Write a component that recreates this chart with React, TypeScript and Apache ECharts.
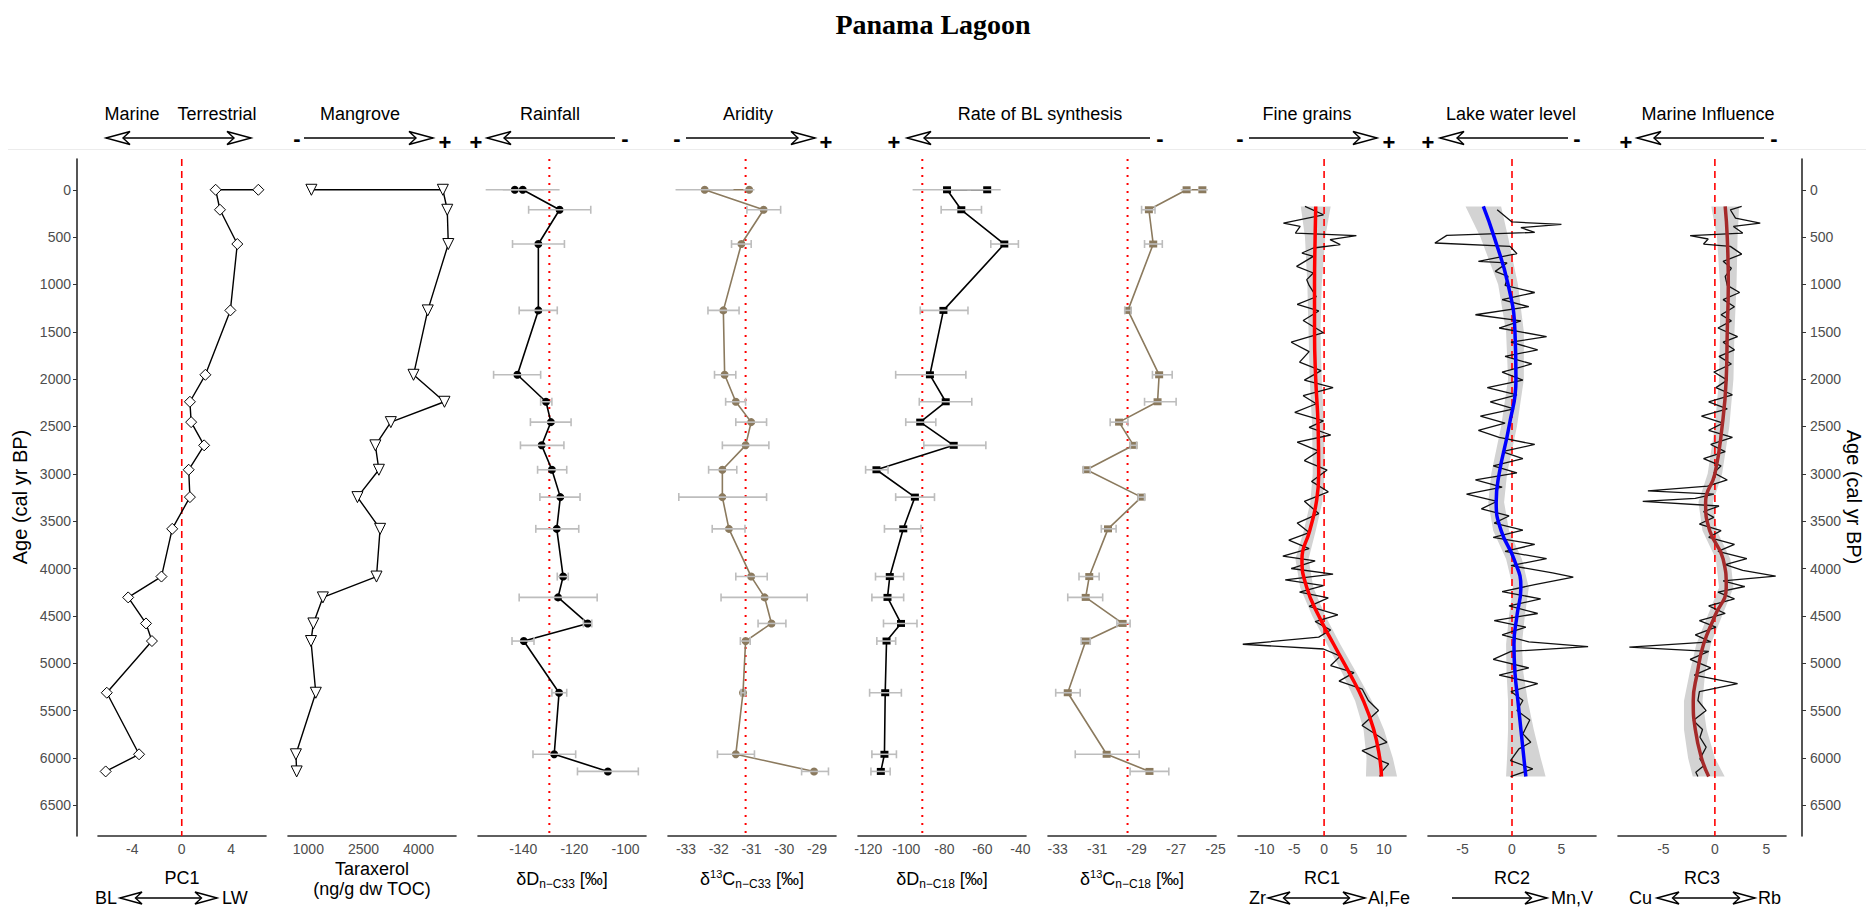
import React, { useEffect, useRef } from "react";
import * as echarts from "echarts";

// ---- shared sample ages (cal yr BP); core-top holds two samples ----
const sampleAge = [0, 0, 211, 573, 1274, 1954, 2239, 2454, 2699, 2957, 3246, 3581, 4085, 4305, 4580, 4766, 5312, 5962, 6143];

const pc1 = [6.19, 2.74, 3.09, 4.49, 3.93, 1.91, 0.66, 0.76, 1.81, 0.56, 0.66, -0.77, -1.64, -4.33, -2.89, -2.41, -6.06, -3.45, -6.15];
const taraxerol = [1082, 4662, 4782, 4810, 4251, 3863, 4706, 3245, 2824, 2920, 2336, 2953, 2855, 1395, 1136, 1071, 1202, 660, 681];

const dDC33 = [-143.3, -140.2, -125.8, -134.1, -134.1, -142.3, -131.1, -129.2, -132.8, -128.8, -125.5, -126.9, -124.4, -126.4, -114.8, -139.8, -126.0, -127.9, -106.9];
const dDC33Lo = [-154.7, -148, -137.9, -144.2, -141.6, -151.6, -133.2, -137.2, -141.1, -134.4, -133.5, -135.1, -126.7, -141.6, -116.5, -144.4, -128.8, -136.2, -118.8];
const dDC33Hi = [-132, -125.8, -113.6, -123.9, -126.7, -133.2, -128.8, -121.3, -124.1, -123.0, -117.8, -118.3, -122.4, -111.1, -113.2, -135.8, -123.0, -119.5, -95.0];

const d13CC33 = [-31.07, -32.43, -30.63, -31.31, -31.86, -31.82, -31.48, -31.01, -31.18, -31.89, -31.89, -31.69, -31.01, -30.6, -30.39, -31.18, -31.26, -31.48, -29.09];
const d13CC33Lo = [-31.25, -33.32, -31.14, -31.61, -32.33, -32.13, -31.79, -31.48, -31.89, -32.31, -33.22, -32.2, -31.48, -31.93, -30.8, -31.34, -31.32, -32.04, -29.47];
const d13CC33Hi = [-30.91, -31.55, -30.11, -31.01, -31.38, -31.48, -31.18, -30.54, -30.47, -31.45, -30.54, -31.2, -30.52, -29.3, -29.95, -31.04, -31.2, -30.91, -28.65];

const dDC18 = [-57.5, -78.6, -71.1, -48.5, -80.5, -87.6, -79.3, -92.7, -75.1, -115.7, -95.5, -101.6, -108.7, -109.9, -102.8, -110.4, -111.1, -111.5, -113.4];
const dDC18Lo = [-68, -96.7, -81.7, -55.6, -92.7, -105.6, -93.2, -100.3, -90.8, -121.4, -105.6, -111.5, -116.2, -118.1, -112, -115.5, -119.3, -118.1, -118.6];
const dDC18Hi = [-50.4, -66, -60.5, -41.1, -67.6, -68.7, -65.6, -84.5, -58.2, -109.6, -85.2, -92.3, -101.4, -101.4, -94.4, -105.6, -102.6, -105.2, -108.5];

const d13CC18 = [-25.67, -26.47, -28.38, -28.16, -29.44, -27.86, -27.94, -29.89, -29.16, -31.54, -28.76, -30.45, -31.4, -31.58, -29.71, -31.58, -32.49, -30.52, -28.35];
const d13CC18Lo = [-25.9, -26.77, -28.75, -28.6, -29.6, -28.2, -28.6, -30.34, -29.32, -31.7, -28.92, -30.79, -31.92, -32.49, -30.0, -31.81, -33.1, -32.11, -29.33];
const d13CC18Hi = [-25.39, -26.2, -28.07, -27.7, -29.28, -27.2, -27.0, -29.44, -29.0, -31.35, -28.6, -30.04, -30.9, -30.72, -29.33, -31.35, -31.86, -28.87, -27.37];

// ---- XRF principal components (raw scores) ----
const rc1Age = [176, 264, 352, 387, 457, 485, 527, 580, 615, 668, 703, 809, 879, 949, 1010, 1130, 1210, 1280, 1380, 1510, 1610, 1710, 1820, 1910, 2010, 2090, 2175, 2260, 2350, 2440, 2510, 2590, 2665, 2760, 2860, 2960, 3080, 3190, 3290, 3420, 3520, 3620, 3700, 3790, 3870, 3920, 4000, 4060, 4120, 4180, 4250, 4310, 4400, 4490, 4560, 4650, 4725, 4800, 4850, 4925, 5025, 5100, 5190, 5275, 5394, 5500, 5658, 5782, 5835, 5923, 6028, 6063, 6134, 6197];
const rc1 = [-3.2, -0.1, -6.8, -4.0, -4.8, 5.4, 1.0, 2.7, -1.8, -3.7, -1.8, -4.6, -1.8, -2.9, -2.5, -1.3, -4.5, -0.9, -3.5, -0.1, -5.5, -2.5, -4.1, -0.5, -3.3, 1.5, -3.5, -1.3, -4.9, -0.1, -2.5, 1.1, -4.5, -0.9, -3.3, 0.5, -2.1, 0.7, -3.3, -0.9, -4.5, -2.5, -5.9, -2.5, -6.9, -1.5, -5.5, 1.5, -6.5, -0.1, -4.1, 0.7, -2.5, 2.3, -1.5, 1.1, -0.9, -13.6, -0.1, 2.7, 1.1, 5.0, 2.5, 6.4, 7.4, 9.1, 6.35, 9.4, 10.5, 6.35, 9.45, 10.8, 9.8, 9.3];

const rc2Age = [211, 340, 365, 400, 450, 482, 562, 598, 675, 756, 773, 862, 914, 1010, 1085, 1160, 1235, 1320, 1385, 1460, 1550, 1610, 1690, 1760, 1840, 1925, 2010, 2090, 2165, 2240, 2315, 2390, 2465, 2540, 2615, 2690, 2765, 2840, 2915, 2990, 3065, 3140, 3215, 3290, 3370, 3445, 3520, 3595, 3670, 3745, 3820, 3895, 3970, 4045, 4090, 4170, 4245, 4320, 4395, 4475, 4550, 4620, 4700, 4775, 4825, 4875, 4960, 5050, 5125, 5215, 5300, 5394, 5500, 5600, 5746, 5835, 5905, 6028, 6116, 6197];
const rc2 = [-1.5, 0.0, 5.0, 0.9, 2.3, -6.6, -7.8, -0.2, 0.5, -3.4, -0.5, -1.7, -0.4, -0.7, 2.3, -1.0, 1.7, -3.7, 0.9, -1.3, 3.5, -0.1, 2.6, -0.7, 2.0, -1.0, 1.1, -2.5, 0.5, -2.2, 0.2, -3.2, -0.7, -3.4, -1.3, 2.3, -1.0, 1.1, -1.9, 0.5, -3.7, -1.0, -4.6, -1.5, -3.1, -0.3, -1.8, 1.1, -1.9, 2.3, -0.7, 3.5, -0.1, 4.1, 6.2, 2.3, -1.0, 2.9, -0.3, 2.6, -1.8, 1.4, -1.0, 1.7, 7.7, -0.1, -1.9, 1.7, -1.3, 2.6, -0.1, 1.1, 0.5, 1.8, 1.1, 1.9, 0.7, -0.15, 2.1, -0.15];

const rc3Age = [176, 211, 300, 352, 387, 457, 485, 520, 573, 598, 680, 756, 830, 914, 1010, 1085, 1160, 1235, 1320, 1385, 1460, 1550, 1610, 1690, 1760, 1840, 1925, 2010, 2090, 2165, 2240, 2315, 2390, 2465, 2540, 2615, 2690, 2765, 2840, 2915, 2990, 3065, 3130, 3180, 3215, 3260, 3290, 3340, 3400, 3460, 3530, 3600, 3670, 3745, 3820, 3895, 3960, 4020, 4080, 4130, 4190, 4250, 4320, 4395, 4475, 4550, 4620, 4700, 4775, 4830, 4875, 4960, 5050, 5125, 5215, 5300, 5394, 5500, 5605, 5700, 5782, 5887, 6010, 6081, 6151, 6197];
const rc3 = [2.6, 1.5, 2.0, 4.4, 1.8, 2.7, -2.4, -0.65, -1.1, 1.5, 2.6, 0.8, 1.6, 1.0, 1.2, 2.4, 0.8, 1.9, 0.6, 1.6, 0.3, 2.2, 0.8, 1.9, 0.4, 1.6, -0.1, 1.2, 0.1, 1.7, -0.6, 1.2, -1.3, 0.8, -0.6, 1.7, -0.4, 1.0, -1.1, 0.6, -0.1, 1.2, -0.7, -6.5, -0.1, -1.9, -7.0, 0.4, -1.1, -0.1, -1.5, 0.6, -0.6, 1.9, 0.3, 3.1, 1.0, 2.7, 5.9, 0.8, 2.9, 0.3, 1.9, -0.6, 1.0, -1.5, 0.1, -1.9, -0.4, -8.3, -0.6, -2.4, -0.4, -2.0, 2.2, -1.5, -1.65, -0.85, -2.1, -1.2, -1.45, -0.85, -1.45, -1.05, -1.85, -1.65];

// ---- loess fits with confidence bands ----
const rcSmoothAge = [176, 500, 1000, 1500, 2000, 2500, 3000, 3300, 3600, 3900, 4200, 4500, 4800, 5100, 5400, 5700, 6000, 6197];
const rc1Smooth = [-1.4, -1.5, -1.6, -1.6, -1.4, -1.0, -0.9, -1.3, -2.4, -3.7, -2.9, -0.9, 1.6, 4.2, 6.6, 8.3, 9.3, 9.6];
const rc1Lo = [-3.9, -3.2, -2.8, -2.6, -2.4, -2.0, -1.9, -2.3, -3.4, -4.8, -4.0, -2.0, 0.5, 3.0, 5.2, 6.6, 7.1, 7.0];
const rc1Hi = [1.1, 0.2, -0.4, -0.6, -0.4, 0.0, 0.1, -0.3, -1.4, -2.6, -1.8, 0.2, 2.7, 5.4, 8.0, 10.0, 11.5, 12.2];
const rc2Smooth = [-2.9, -1.8, -0.4, 0.3, 0.4, -0.3, -1.3, -1.6, -1.1, 0.2, 0.9, 0.5, 0.2, 0.3, 0.6, 0.9, 1.2, 1.4];
const rc2Lo = [-4.7, -3.2, -1.4, -0.6, -0.4, -1.1, -2.1, -2.4, -1.9, -0.6, 0.1, -0.3, -0.6, -0.55, -0.4, -0.4, -0.5, -0.6];
const rc2Hi = [-1.1, -0.4, 0.6, 1.2, 1.2, 0.5, -0.5, -0.8, -0.3, 1.0, 1.7, 1.3, 1.0, 1.15, 1.6, 2.2, 2.9, 3.4];
const rc3Smooth = [1.0, 1.2, 1.3, 1.2, 1.1, 0.7, 0.0, -0.9, -0.5, 0.8, 1.1, 0.0, -1.1, -1.7, -2.1, -1.9, -1.3, -0.6];
const rc3Lo = [-0.35, 0.2, 0.5, 0.5, 0.4, 0.0, -0.7, -1.6, -1.2, 0.1, 0.4, -0.7, -1.8, -2.45, -3.0, -3.0, -2.6, -2.15];
const rc3Hi = [2.35, 2.2, 2.1, 1.9, 1.8, 1.4, 0.7, -0.2, 0.2, 1.5, 1.8, 0.7, -0.4, -0.95, -1.2, -0.8, 0.0, 0.95];

// ---- reference lines ----
const pc1Ref = 0;
const dDC33Ref = -129.8;
const d13CC33Ref = -31.18;
const dDC18Ref = -91.6;
const d13CC18Ref = -29.46;
const rcRef = 0;

// ---- tick labels ----
const ageTicks = [0, 500, 1000, 1500, 2000, 2500, 3000, 3500, 4000, 4500, 5000, 5500, 6000, 6500];
const pc1Ticks = [-4, 0, 4];
const taraxTicks = [1000, 2500, 4000];
const dDC33Ticks = [-140, -120, -100];
const d13CC33Ticks = [-33, -32, -31, -30, -29];
const dDC18Ticks = [-120, -100, -80, -60, -40];
const d13CC18Ticks = [-33, -31, -29, -27, -25];
const rc1Ticks = [-10, -5, 0, 5, 10];
const rc2Ticks = [-5, 0, 5];
const rc3Ticks = [-5, 0, 5];

const FONT = "'Liberation Sans', Arial, Helvetica, sans-serif";
const AGE_MIN = -325;
const AGE_MAX = 6825;
const BROWN = "#8b7a5e";
const ERR = "#bdbdbd";

const panelRanges: [number, number][] = [
  [-6.77, 6.81], [445, 5020], [-157.7, -92.0], [-33.55, -28.42], [-125.4, -37.1],
  [-33.49, -24.98], [-14.4, 13.7], [-8.5, 8.5], [-9.4, 6.9],
];
const panelTicks = [pc1Ticks, taraxTicks, dDC33Ticks, d13CC33Ticks, dDC18Ticks, d13CC18Ticks, rc1Ticks, rc2Ticks, rc3Ticks];

const PANEL_LEFT = 98;
const PANEL_STEP = 190;
const PANEL_W = 168;
const GRID_TOP = 159;
const GRID_H = 677;

const plainNumber = (v: number) => String(v);

function pairs(xs: number[], ys: number[]) {
  return xs.map((v, i) => [v, ys[i]]);
}

function refLine(k: number, value: number, dotted: boolean) {
  return {
    type: "line", xAxisIndex: k, yAxisIndex: k, z: 1, silent: true,
    symbol: "none",
    data: [[value, AGE_MIN], [value, AGE_MAX]],
    lineStyle: { color: "#ff0000", width: dotted ? 2 : 1.6, type: dotted ? [2, 6] : [7, 5] },
  };
}

function errorBars(k: number, lo: number[], hi: number[]) {
  return {
    type: "custom", xAxisIndex: k, yAxisIndex: k, z: 4, silent: true,
    data: lo.map((l, i) => [l, hi[i], sampleAge[i]]),
    encode: { x: [0, 1], y: 2 },
    renderItem: (_p: any, api: any) => {
      const age = api.value(2);
      const a = api.coord([api.value(0), age]);
      const b = api.coord([api.value(1), age]);
      const st = { stroke: ERR, lineWidth: 1.6 };
      const children: any[] = [
        { type: "line", shape: { x1: a[0], y1: a[1], x2: b[0], y2: b[1] }, style: st },
      ];
      // core-top bars are drawn without end caps
      if (age > 0) {
        children.push({ type: "line", shape: { x1: a[0], y1: a[1] - 4, x2: a[0], y2: a[1] + 4 }, style: st });
        children.push({ type: "line", shape: { x1: b[0], y1: b[1] - 4, x2: b[0], y2: b[1] + 4 }, style: st });
      }
      return { type: "group", children };
    },
  };
}

function profile(k: number, values: number[], color: string, symbol: string, size: any) {
  return {
    type: "line", xAxisIndex: k, yAxisIndex: k, z: 3,
    data: pairs(values, sampleAge),
    symbol, symbolSize: size, showAllSymbol: true,
    itemStyle: { color },
    lineStyle: { color, width: 1.6 },
  };
}

function band(k: number, lo: number[], hi: number[]) {
  return {
    type: "custom", xAxisIndex: k, yAxisIndex: k, z: 1, silent: true,
    data: [[lo[0], rcSmoothAge[0]]],
    renderItem: (_p: any, api: any) => {
      const pts: number[][] = [];
      for (let i = 0; i < lo.length; i++) pts.push(api.coord([lo[i], rcSmoothAge[i]]));
      for (let i = hi.length - 1; i >= 0; i--) pts.push(api.coord([hi[i], rcSmoothAge[i]]));
      return { type: "polygon", shape: { points: pts }, style: { fill: "#d3d3d3" } };
    },
  };
}

function rcSeries(k: number, ages: number[], vals: number[], smooth: number[], lo: number[], hi: number[], color: string) {
  return [
    band(k, lo, hi),
    refLine(k, rcRef, false),
    {
      type: "line", xAxisIndex: k, yAxisIndex: k, z: 3, silent: true, symbol: "none",
      data: pairs(vals, ages), lineStyle: { color: "#111", width: 1.3 },
    },
    {
      type: "line", xAxisIndex: k, yAxisIndex: k, z: 5, silent: true, symbol: "none", smooth: 0.5,
      data: pairs(smooth, rcSmoothAge), lineStyle: { color, width: 3.5 },
    },
  ];
}

// ---- annotation helpers ----
function txt(text: string, x: number, y: number, align = "center", size = 18, weight = "normal", rotation = 0) {
  return {
    type: "text", x, y, rotation, silent: true, z: 100,
    style: { text, fill: "#000", fontSize: size, fontFamily: FONT, fontWeight: weight, align, verticalAlign: "middle" },
  };
}

function head(tipX: number, y: number, dir: number, len: number, half: number, notch: number) {
  return {
    type: "polygon", silent: true, z: 102,
    shape: { points: [[tipX, y], [tipX - dir * len, y - half], [tipX - dir * (len - notch), y], [tipX - dir * len, y + half]] },
    style: { fill: "#fff", stroke: "#000", lineWidth: 1.4 },
  };
}

function arrow(x1: number, x2: number, y: number, heads: string, big: boolean) {
  const len = big ? 24 : 22;
  const half = big ? 6.5 : 6;
  const notch = big ? 7 : 6.5;
  const els: any[] = [{ type: "line", silent: true, z: 101, shape: { x1, y1: y, x2, y2: y }, style: { stroke: "#000", lineWidth: 1.4 } }];
  if (heads !== "right") els.push(head(x1, y, -1, len, half, notch));
  if (heads !== "left") els.push(head(x2, y, 1, len, half, notch));
  return els;
}

const sign = (s: string, x: number) => txt(s, x, s === "+" ? 142 : 138, "center", 22, "bold");

function isoTitle(x: number, y: number, iso: string, sup: string | null, sub: string) {
  const text = sup ? `{m|δ}{sup|${sup}}{m|${iso}}{sub|${sub}}{m| [‰]}` : `{m|δ${iso}}{sub|${sub}}{m| [‰]}`;
  return {
    type: "text", x, y, silent: true, z: 100,
    style: {
      text, align: "center", verticalAlign: "middle", fill: "#000", fontFamily: FONT, fontSize: 18,
      rich: {
        m: { fontSize: 18, fontFamily: FONT, fill: "#000", lineHeight: 22, verticalAlign: "middle" },
        sup: { fontSize: 11, fontFamily: FONT, fill: "#000", lineHeight: 11, verticalAlign: "top" },
        sub: { fontSize: 12, fontFamily: FONT, fill: "#000", lineHeight: 12, verticalAlign: "bottom" },
      },
    },
  };
}

function buildOption() {
  const grids = panelRanges.map((_, i) => ({
    left: PANEL_LEFT + PANEL_STEP * i, top: GRID_TOP, width: PANEL_W, height: GRID_H, containLabel: false,
  }));

  const xAxes = panelRanges.map((r, i) => ({
    type: "value", gridIndex: i, position: "bottom", min: r[0], max: r[1],
    axisLine: { show: true, onZero: false, lineStyle: { color: "#2b2b2b", width: 1.6 } },
    axisTick: { show: false },
    splitLine: { show: false },
    axisLabel: { customValues: panelTicks[i], formatter: plainNumber, color: "#4d4d4d", fontSize: 14, fontFamily: FONT, margin: 6 },
  }));

  const yAxes = panelRanges.map((_, i) => {
    const edge = i === 0 || i === panelRanges.length - 1;
    return {
      type: "value", gridIndex: i, inverse: true, min: AGE_MIN, max: AGE_MAX,
      show: edge,
      position: i === 0 ? "left" : "right",
      offset: i === 0 ? 21 : 16,
      axisLine: { show: edge, onZero: false, lineStyle: { color: "#2b2b2b", width: 1.6 } },
      axisTick: { show: edge, customValues: ageTicks, length: 4, lineStyle: { color: "#333" } },
      splitLine: { show: false },
      axisLabel: { show: edge, customValues: ageTicks, formatter: plainNumber, color: "#4d4d4d", fontSize: 14, fontFamily: FONT, margin: i === 0 ? 6 : 8 },
    };
  });

  const series: any[] = [
    // PC1
    refLine(0, pc1Ref, false),
    {
      type: "line", xAxisIndex: 0, yAxisIndex: 0, z: 3, data: pairs(pc1, sampleAge),
      symbol: "diamond", symbolSize: 11, showAllSymbol: true,
      itemStyle: { color: "#fff", borderColor: "#000", borderWidth: 1 },
      lineStyle: { color: "#000", width: 1.4 },
    },
    // Taraxerol
    {
      type: "line", xAxisIndex: 1, yAxisIndex: 1, z: 3, data: pairs(taraxerol, sampleAge),
      symbol: "triangle", symbolRotate: 180, symbolSize: 11, showAllSymbol: true,
      itemStyle: { color: "#fff", borderColor: "#000", borderWidth: 1 },
      lineStyle: { color: "#000", width: 1.4 },
    },
    // leaf wax isotopes
    refLine(2, dDC33Ref, true),
    profile(2, dDC33, "#000", "circle", 8),
    errorBars(2, dDC33Lo, dDC33Hi),
    refLine(3, d13CC33Ref, true),
    profile(3, d13CC33, BROWN, "circle", 8),
    errorBars(3, d13CC33Lo, d13CC33Hi),
    // short-chain (n-C18) isotopes
    refLine(4, dDC18Ref, true),
    profile(4, dDC18, "#000", "rect", [8, 7]),
    errorBars(4, dDC18Lo, dDC18Hi),
    refLine(5, d13CC18Ref, true),
    profile(5, d13CC18, BROWN, "rect", [8, 7]),
    errorBars(5, d13CC18Lo, d13CC18Hi),
    // XRF components
    ...rcSeries(6, rc1Age, rc1, rc1Smooth, rc1Lo, rc1Hi, "#ff0000"),
    ...rcSeries(7, rc2Age, rc2, rc2Smooth, rc2Lo, rc2Hi, "#0000ff"),
    ...rcSeries(8, rc3Age, rc3, rc3Smooth, rc3Lo, rc3Hi, "#a52a2a"),
  ];

  const graphics: any[] = [
    // title
    {
      type: "text", x: 933, y: 24, silent: true, z: 100,
      style: { text: "Panama Lagoon", fill: "#000", fontSize: 28, fontWeight: "bold", fontFamily: "'Liberation Serif', 'Times New Roman', serif", align: "center", verticalAlign: "middle" },
    },
    // header separator
    { type: "line", silent: true, z: 1, shape: { x1: 8, y1: 149.5, x2: 1866, y2: 149.5 }, style: { stroke: "#ececec", lineWidth: 1 } },

    // header labels
    txt("Marine", 132, 114), txt("Terrestrial", 217, 114), txt("Mangrove", 360, 114),
    txt("Rainfall", 550, 114), txt("Aridity", 748, 114), txt("Rate of BL synthesis", 1040, 114),
    txt("Fine grains", 1307, 114), txt("Lake water level", 1511, 114), txt("Marine Influence", 1708, 114),

    // header arrows
    ...arrow(106, 251, 138, "both", true),
    sign("-", 297), ...arrow(304, 433, 138, "right", true), sign("+", 445),
    sign("+", 476), ...arrow(487, 615, 138, "left", true), sign("-", 625),
    sign("-", 677), ...arrow(686, 815, 138, "right", true), sign("+", 826),
    sign("+", 894), ...arrow(907, 1150, 138, "left", true), sign("-", 1160),
    sign("-", 1240), ...arrow(1249, 1377, 138, "right", true), sign("+", 1389),
    sign("+", 1428), ...arrow(1440, 1568, 138, "left", true), sign("-", 1577),
    sign("+", 1626), ...arrow(1637, 1764, 138, "left", true), sign("-", 1774),

    // axis titles
    txt("PC1", 182, 878),
    txt("Taraxerol", 372, 869), txt("(ng/g dw TOC)", 372, 889),
    isoTitle(562, 879, "D", null, "n−C33"),
    isoTitle(752, 879, "C", "13", "n−C33"),
    isoTitle(942, 879, "D", null, "n−C18"),
    isoTitle(1132, 879, "C", "13", "n−C18"),
    txt("RC1", 1322, 878), txt("RC2", 1512, 878), txt("RC3", 1702, 878),

    // bottom arrows
    txt("BL", 117, 898, "right"), ...arrow(120, 217, 898, "both", false), txt("LW", 222, 898, "left"),
    txt("Zr", 1266, 898, "right"), ...arrow(1268, 1365, 898, "both", false), txt("Al,Fe", 1368, 898, "left"),
    ...arrow(1452, 1547, 898, "right", false), txt("Mn,V", 1551, 898, "left"),
    txt("Cu", 1652, 898, "right"), ...arrow(1657, 1755, 898, "both", false), txt("Rb", 1758, 898, "left"),

    // age axis titles
    txt("Age (cal yr BP)", 20, 497, "center", 20, "normal", Math.PI / 2),
    txt("Age (cal yr BP)", 1854, 497, "center", 20, "normal", -Math.PI / 2),
  ];

  return {
    animation: false,
    backgroundColor: "#ffffff",
    grid: grids,
    xAxis: xAxes,
    yAxis: yAxes,
    series,
    graphic: { elements: graphics },
  };
}

export default function App() {
  const ref = useRef<HTMLDivElement>(null);
  useEffect(() => {
    if (!ref.current) return;
    const chart = echarts.init(ref.current, undefined, { renderer: "svg" });
    chart.setOption(buildOption() as any);
    return () => chart.dispose();
  }, []);
  return (
    <div
      ref={ref}
      style={{ position: "absolute", left: 0, top: 0, width: 1866, height: 910, background: "#fff" }}
    />
  );
}
